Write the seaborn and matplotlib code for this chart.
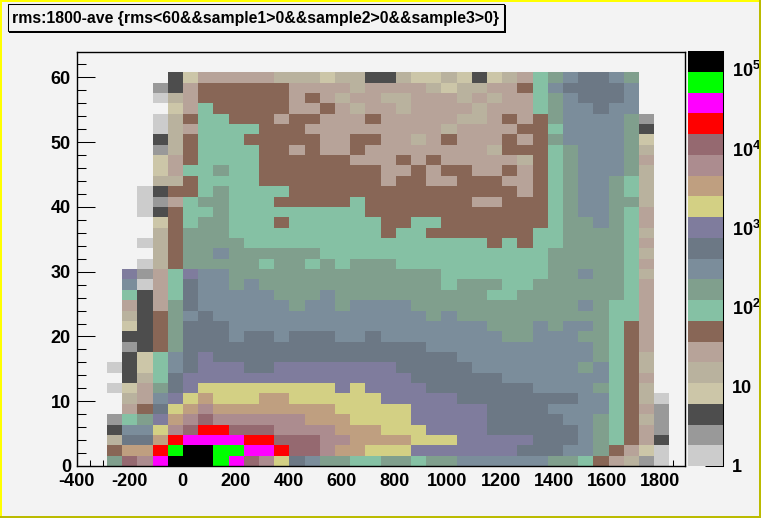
import numpy as np
import pandas as pd
import matplotlib
matplotlib.use('Agg')
import matplotlib.pyplot as plt
import seaborn as sns
from matplotlib.colors import ListedColormap, LogNorm
from matplotlib.patches import Rectangle
from matplotlib.ticker import LogLocator, NullFormatter

TITLE = 'rms:1800-ave {rms<60&&sample1>0&&sample2>0&&sample3>0}'

# one character per bin, top row first ('.' = empty), groups of ten bins
ROWS = [
    '.......... .......... .......... ..........',
    '.......... .......... .......... ..........',
    '......2355 5554443442 2433432345 789aa98...',
    '.....12566 6666555545 5554344556 79aaaa9...',
    '.....04566 6666565455 4455545455 789aaa9...',
    '......3576 6666556545 5455554555 7899a99...',
    '.....04677 6665665556 5555544565 68999981..',
    '.....04577 7766655555 5555455556 67999982..',
    '.....24677 7666665566 5545655565 68999983..',
    '.....14677 7766565565 5555555466 67899984..',
    '.....35677 7766666655 5656555554 67899985..',
    '.....35778 7766666666 5565665565 67899984..',
    '.....44677 7766666666 5665566655 67899874..',
    '....026678 7777666666 6666666665 67899874..',
    '....015788 7776666676 6666665566 67899884..',
    '....026778 7777777776 6666666666 67899875..',
    '.....36788 7776777777 6677666666 67889875..',
    '.....46888 7777777777 6776666666 77888874..',
    '....046888 8777777777 7777777676 77888875..',
    '.....46889 8888887777 7777777777 78888874..',
    '....046888 8878878788 8777777777 78888875..',
    '...b157b99 8888888888 8888777777 78898874..',
    '...9057a99 8988888888 8888788877 88888875..',
    '...7257a99 9998889888 8888888778 88888875..',
    '...5258a99 9999899899 9988888888 88898775..',
    '...42689a9 9999999999 9998988888 88888775..',
    '...3268aaa 9999999999 9999999888 98998765..',
    '...2268aaa 9aa9aaa99a 9999999988 99988765..',
    '...1268aaa aaaaaaaaaa aaa9999999 99998765..',
    '...2379aba aaaaaaaaaa aaaaa99999 99998764..',
    '..02379abb baabbbbbbb baaaaa9999 99989764..',
    '...247abbb bbbbbbbbbb bbaaaaaa99 99999765..',
    '..0358abcc cccccccbcb bbbaaaaaaa 99998764..',
    '...459bcdc ccddcccccc bbbbbaaaaa aaa997640.',
    '...56acded dddddddccc ccbbbbbaaa a99997651.',
    '..178bdefe eeeeedddcc ccbbbbbaaa aa9987641.',
    '..299cefgg fffeeeeddd cccbbbbaaa aaa987651.',
    '..4aadghhh hggfffeedd ddcccbbbbb aaa987652.',
    '..6ddgijji ihhgffeddc ccbbbbbbba aa9986530.',
    '..8fehjjji hfeca98877 8878899999 988765410.',
]

LEVELS = '0123456789abcdefghij'
# typical count of each colour band
LEVEL_COUNTS = [1, 2, 4, 8, 15, 27, 50, 90, 170, 300, 560, 1000, 1900,
                3400, 6300, 11500, 21000, 38000, 70000, 130000]
COLORS = ['#cccccc', '#999999', '#4d4d4d', '#ccc6a8', '#b9b29e', '#b7a399',
          '#886656', '#85c1a4', '#809f8d', '#7b8d9b', '#6c7885', '#7f7c9d',
          '#d3d084', '#bf9f80', '#ac8c8f', '#956970', '#ff0000', '#ff00ff',
          '#00ff00', '#000000']

X_RANGE = (-400, 1894)
Y_RANGE = (0, 64)
Z_RANGE = (1, 1.7e5)
X_TICKS = [-400, -200, 0, 200, 400, 600, 800, 1000, 1200, 1400, 1600, 1800]
Y_TICKS = [0, 10, 20, 30, 40, 50, 60]
Z_TICKS = [1, 10, 100, 1000, 10000, 100000]
Z_LABELS = ['1', '10', r'$\mathbf{10^{2}}$', r'$\mathbf{10^{3}}$',
            r'$\mathbf{10^{4}}$', r'$\mathbf{10^{5}}$']

BG = '#f3f3f3'
W, H = 761, 518


def rows_to_counts(rows):
    out = []
    for row in rows:
        cells = row.replace(' ', '')
        assert len(cells) == 40, row
        out.append([LEVEL_COUNTS[LEVELS.index(c)] if c != '.' else np.nan
                    for c in cells])
    return pd.DataFrame(out)


def px_box(x0, y0, x1, y1):
    # pixel box (y from the top) to figure fractions
    return [x0 / W, 1 - y1 / H, (x1 - x0) / W, (y1 - y0) / H]


def main():
    sns.set_theme(style='white')
    plt.rcParams['font.family'] = ['Liberation Sans']
    plt.rcParams['font.weight'] = 'bold'
    plt.rcParams['mathtext.fontset'] = 'custom'
    plt.rcParams['mathtext.bf'] = 'Liberation Sans:bold'
    plt.rcParams['mathtext.rm'] = 'Liberation Sans:bold'

    counts = rows_to_counts(ROWS)

    fig = plt.figure(figsize=(W / 100, H / 100), dpi=100, facecolor=BG)
    ax = fig.add_axes(px_box(76.5, 51.5, 684.5, 466))
    cax = fig.add_axes(px_box(688, 51, 722.5, 466))
    ax.set_facecolor(BG)

    sns.heatmap(counts, ax=ax, cbar_ax=cax,
                cmap=ListedColormap(COLORS),
                norm=LogNorm(vmin=Z_RANGE[0], vmax=Z_RANGE[1]),
                xticklabels=False, yticklabels=False)

    # map data values on the heatmap's bin coordinates
    nx, ny = counts.shape[1], counts.shape[0]
    to_x = lambda v: (np.asarray(v, dtype=float) - X_RANGE[0]) / (X_RANGE[1] - X_RANGE[0]) * nx
    to_y = lambda v: ny - (np.asarray(v, dtype=float) - Y_RANGE[0]) / (Y_RANGE[1] - Y_RANGE[0]) * ny

    ax.set_xticks(to_x(X_TICKS))
    ax.set_xticklabels([str(v) for v in X_TICKS], rotation=0)
    ax.set_xticks(to_x(np.arange(-400, 1851, 50)), minor=True)
    ax.set_yticks(to_y(Y_TICKS))
    ax.set_yticklabels([str(v) for v in Y_TICKS], rotation=0)
    ax.set_yticks(to_y(np.arange(0, 63, 2)), minor=True)
    ax.set_xlabel('')
    ax.set_ylabel('')

    ax.tick_params(axis='x', which='major', direction='in', length=9, width=0.75,
                   color='black', labelsize=13, pad=5, bottom=True, labelcolor='black')
    ax.tick_params(axis='x', which='minor', direction='in', length=4.5, width=0.75,
                   color='black', bottom=True)
    ax.tick_params(axis='y', which='major', direction='in', length=13, width=0.75,
                   color='black', labelsize=13, pad=4, left=True, labelcolor='black')
    ax.tick_params(axis='y', which='minor', direction='in', length=6.5, width=0.75,
                   color='black', left=True)
    for spine in ax.spines.values():
        spine.set_visible(True)
        spine.set_color('black')
        spine.set_linewidth(1)

    # colour bar axis
    cbar = ax.collections[0].colorbar
    cbar.outline.set_visible(False)
    cax.spines['right'].set_visible(True)
    cax.spines['right'].set_color('black')
    cax.spines['right'].set_linewidth(0.75)
    cax.yaxis.set_ticks_position('right')
    cax.set_yticks(Z_TICKS)
    cax.set_yticklabels(Z_LABELS)
    cax.yaxis.set_minor_locator(LogLocator(base=10, subs=np.arange(2, 10), numticks=12))
    cax.yaxis.set_minor_formatter(NullFormatter())
    cax.tick_params(axis='y', which='major', direction='in', length=13, width=0.75,
                    color='black', labelsize=13, pad=7, right=True, labelcolor='black')
    cax.tick_params(axis='y', which='minor', direction='in', length=6.5, width=0.75,
                    color='black', right=True)

    # title box with its drop shadow
    def add_box(x0, y0, x1, y1, **kw):
        b = px_box(x0, y0, x1, y1)
        fig.add_artist(Rectangle((b[0], b[1]), b[2], b[3],
                                 transform=fig.transFigure, **kw))

    add_box(9, 5, 506, 33, facecolor='black', edgecolor='none', zorder=5)
    add_box(7.5, 3.5, 504, 31, facecolor=BG, edgecolor='black', linewidth=0.75, zorder=6)
    fig.text(12 / W, 1 - 18 / H, TITLE, fontsize=11.4, fontweight='bold',
             color='black', ha='left', va='center', zorder=7)

    # raised pad border
    add_box(0, 0, W, 2, facecolor='#ffff00', edgecolor='none', zorder=8)
    add_box(0, 0, 2, H, facecolor='#ffff00', edgecolor='none', zorder=8)
    add_box(W - 2, 0, W, H, facecolor='#bbbb00', edgecolor='none', zorder=8)
    add_box(0, H - 2, W, H, facecolor='#bbbb00', edgecolor='none', zorder=8)

    fig.savefig('out.png', dpi=100, facecolor=BG)


if __name__ == '__main__':
    main()
